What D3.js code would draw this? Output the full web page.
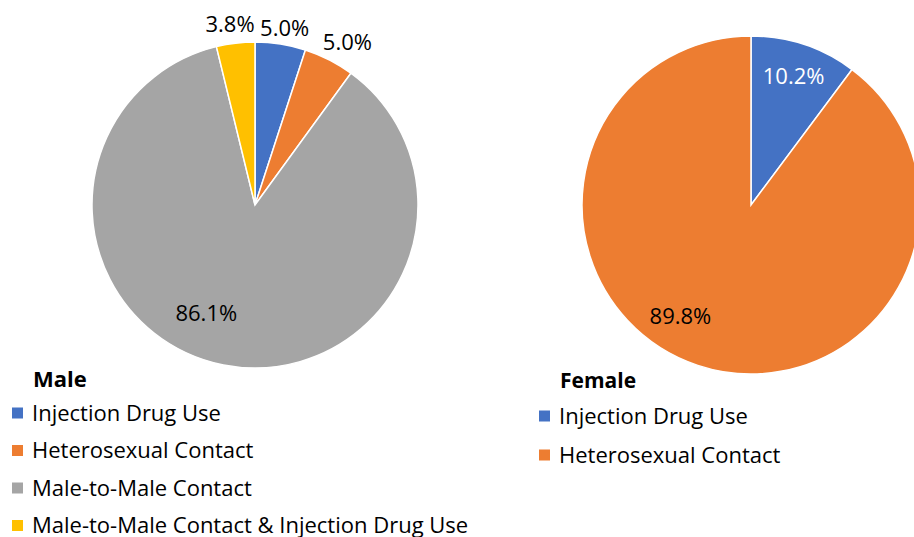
<!DOCTYPE html>
<html>
<head>
<meta charset="utf-8">
<script src="https://cdn.jsdelivr.net/npm/d3@7"></script>
<style>
  body { margin: 0; background: #fff; }
  svg { display: block; font-family: "Open Sans", sans-serif; }
</style>
</head>
<body>
<svg id="chart"></svg>
<script>
// data
var maleCategories = ["Injection Drug Use", "Heterosexual Contact", "Male-to-Male Contact", "Male-to-Male Contact & Injection Drug Use"];
var maleValues = [5.0, 5.0, 86.1, 3.8];
var maleLabels = ["5.0%", "5.0%", "86.1%", "3.8%"];

var femaleCategories = ["Injection Drug Use", "Heterosexual Contact"];
var femaleValues = [10.2, 89.8];
var femaleLabels = ["10.2%", "89.8%"];

var colors = ["#4472C4", "#ED7D31", "#A5A5A5", "#FFC000"];

var svgWidth = 914, svgHeight = 537;
var svg = d3.select("#chart")
    .attr("width", svgWidth)
    .attr("height", svgHeight);

// draw one pie + its legend
// labelRadius: distance of the label as factor of r, labelTurn: extra angle (deg) for label
function drawPie(opts) {
    var g = svg.append("g")
        .attr("transform", "translate(" + opts.cx + "," + opts.cy + ")");

    var pie = d3.pie().sort(null).value(function (d) { return d; });
    var arcs = pie(opts.values);

    var path = d3.arc().innerRadius(0).outerRadius(opts.r);

    g.selectAll("path")
        .data(arcs)
        .enter()
        .append("path")
        .attr("d", path)
        .attr("fill", function (d, i) { return colors[i]; })
        .attr("stroke", "#fff")
        .attr("stroke-width", 1.5);

    g.selectAll("text")
        .data(arcs)
        .enter()
        .append("text")
        .attr("x", function (d, i) {
            var a = (d.startAngle + d.endAngle) / 2 + opts.labelTurn[i] * Math.PI / 180;
            return Math.sin(a) * opts.r * opts.labelRadius[i];
        })
        .attr("y", function (d, i) {
            var a = (d.startAngle + d.endAngle) / 2 + opts.labelTurn[i] * Math.PI / 180;
            return -Math.cos(a) * opts.r * opts.labelRadius[i];
        })
        .attr("dy", "0.35em")
        .attr("text-anchor", "middle")
        .attr("font-size", 22)
        .attr("fill", function (d, i) { return opts.labelColor[i]; })
        .text(function (d, i) { return opts.labels[i]; });

    // legend
    var leg = svg.append("g")
        .attr("transform", "translate(" + opts.legX + "," + opts.legY + ")");

    leg.append("text")
        .attr("x", 21)
        .attr("y", 0)
        .attr("font-size", opts.titleSize)
        .attr("font-weight", "bold")
        .attr("fill", "#000")
        .text(opts.title);

    var rowY = d3.scalePoint()
        .domain(opts.categories)
        .range([opts.firstRow, opts.firstRow + opts.rowGap * (opts.categories.length - 1)]);

    var rows = leg.selectAll(".row")
        .data(opts.categories)
        .enter()
        .append("g")
        .attr("class", "row")
        .attr("transform", function (d) { return "translate(0," + rowY(d) + ")"; });

    rows.append("rect")
        .attr("x", 0)
        .attr("y", -5.5)
        .attr("width", 11)
        .attr("height", 11)
        .attr("fill", function (d, i) { return colors[i]; });

    rows.append("text")
        .attr("x", 20)
        .attr("y", 0)
        .attr("dy", "0.35em")
        .attr("font-size", 22)
        .attr("fill", "#000")
        .text(function (d) { return d; });
}

drawPie({
    cx: 255, cy: 205, r: 163,
    values: maleValues, labels: maleLabels, categories: maleCategories,
    labelRadius: [1.1, 1.15, 0.73, 1.12],
    labelTurn: [0.5, 2.5, 13, -1],
    labelColor: ["#000", "#000", "#000", "#000"],
    title: "Male", titleSize: 22, legX: 12, legY: 387, firstRow: 26, rowGap: 37.5
});

drawPie({
    cx: 751, cy: 205, r: 169,
    values: femaleValues, labels: femaleLabels, categories: femaleCategories,
    labelRadius: [0.8, 0.78],
    labelTurn: [0, 14],
    labelColor: ["#fff", "#000"],
    title: "Female", titleSize: 21, legX: 539, legY: 388, firstRow: 28, rowGap: 39
});
</script>
</body>
</html>
